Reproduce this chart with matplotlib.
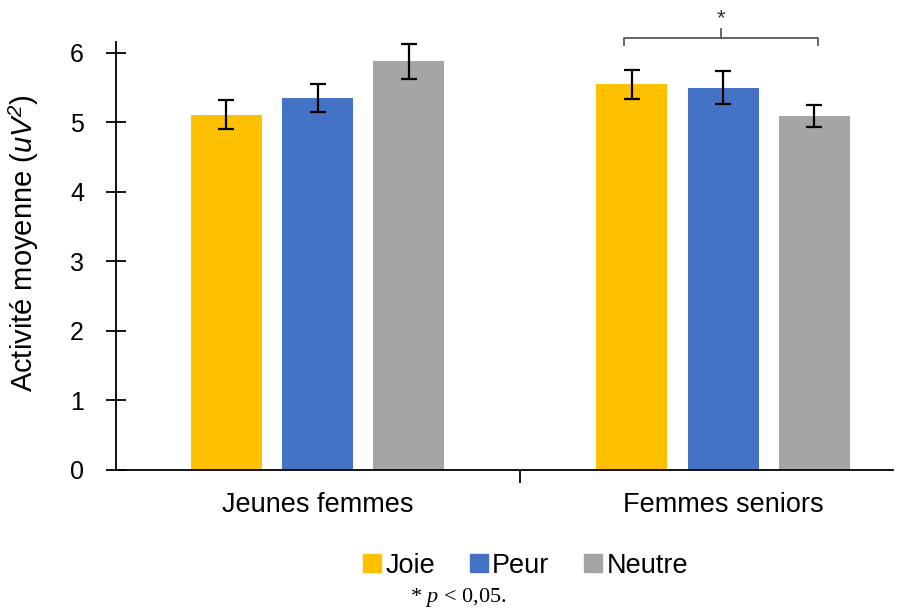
import matplotlib
matplotlib.use("Agg")
import matplotlib.pyplot as plt
from matplotlib.lines import Line2D
import numpy as np

plt.rcParams['font.family'] = ['Liberation Sans', 'DejaVu Sans']
plt.rcParams['mathtext.fontset'] = 'custom'
plt.rcParams['mathtext.rm'] = 'Liberation Sans'
plt.rcParams['mathtext.sf'] = 'Liberation Sans:italic'
plt.rcParams['mathtext.it'] = 'Liberation Serif:italic'

groups = ["Jeunes femmes", "Femmes seniors"]
conditions = ["Joie", "Peur", "Neutre"]
means = {
    "Joie":   [5.11, 5.55],
    "Peur":   [5.35, 5.50],
    "Neutre": [5.88, 5.09],
}
errors = {
    "Joie":   [0.21, 0.21],
    "Peur":   [0.20, 0.24],
    "Neutre": [0.25, 0.16],
}
colors = {"Joie": "#FFC000", "Peur": "#4472C4", "Neutre": "#A5A5A5"}
yticks = [0, 1, 2, 3, 4, 5, 6]

fig = plt.figure(figsize=(9.21, 6.15), dpi=100)
ax = fig.add_axes([0.126, 0.236, 0.844, 0.695])

x = np.arange(len(groups))
width = 0.175
step = 0.225
for i, c in enumerate(conditions):
    ax.bar(x + (i - 1) * step, means[c], width, color=colors[c],
           yerr=errors[c], capsize=6,
           error_kw=dict(ecolor="black", elinewidth=1.6, capthick=1.6))

ax.set_xlim(-0.497, 1.42)
ax.set_ylim(0, 6.15)
ax.set_yticks(yticks)
ax.set_yticklabels([str(t) for t in yticks], fontsize=18)
ax.set_xticks([0.5])
ax.set_xticklabels([""])
ax.tick_params(axis="y", direction="inout", length=14, width=1.3, pad=16)
ax.tick_params(axis="x", direction="out", length=9, width=1.3)
for i, g in enumerate(groups):
    ax.text(x[i], -0.50, g, ha="center", va="center", fontsize=19.5,
            transform=ax.transData)

for s in ["top", "right"]:
    ax.spines[s].set_visible(False)
ax.spines["left"].set_linewidth(1.3)
ax.spines["bottom"].set_linewidth(1.3)

ax.set_ylabel("Activité moyenne ($\\mathsf{uV}^{\\mathsf{2}}$)", fontsize=21)
ax.yaxis.set_label_coords(-0.096, 0.53)

# significance bracket
x1 = x[1] - step - 0.02
x2 = x[1] + step + 0.01
yb = 6.22
ax.plot([x1, x1, x2, x2], [yb - 0.1, yb, yb, yb - 0.1], color="#595959",
        lw=1.3, clip_on=False)
xm = (x1 + x2) / 2
ax.plot([xm, xm], [yb, yb + 0.12], color="#595959", lw=1.3, clip_on=False)
ax.text(xm, yb + 0.12, "*", ha="center", va="bottom", fontsize=16, color="#333333")

handles = [Line2D([], [], marker="s", linestyle="none", markersize=13,
                  color=colors[c]) for c in conditions]
fig.legend(handles, conditions, loc="center", bbox_to_anchor=(0.568, 0.08),
           ncol=3, frameon=False, fontsize=19.5, handletextpad=0.0,
           columnspacing=1.1, handlelength=1.0)

fig.text(0.498, 0.028, "* $\\mathit{p}$ < 0,05.", ha="center", va="center",
         fontsize=16, family="Liberation Serif")

fig.savefig("out.png", dpi=100)
